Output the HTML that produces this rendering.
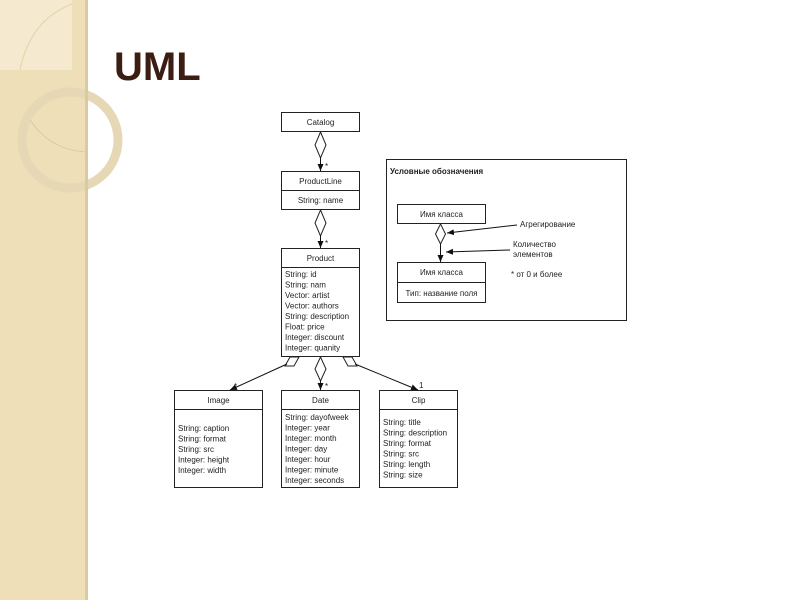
<!DOCTYPE html>
<html><head><meta charset="utf-8"><style>
html,body{margin:0;padding:0;background:#fff;}
svg{display:block;}
text{font-family:"Liberation Sans","DejaVu Sans",sans-serif;fill:#222;}
.t{font-size:8px;}
</style></head><body>
<svg width="800" height="600" viewBox="0 0 800 600" xmlns="http://www.w3.org/2000/svg">
<defs>
<marker id="ah" markerWidth="8" markerHeight="8" refX="7" refY="4" orient="auto" markerUnits="userSpaceOnUse">
<path d="M0,1 L7,4 L0,7 Z" fill="#111"/></marker>
</defs>
<!-- left decorative panel -->
<rect x="0" y="0" width="86" height="600" fill="#efdfb9"/>
<rect x="0" y="0" width="72" height="70" fill="#f5ead0"/>
<path d="M20,70 Q30,20 72,4" fill="none" stroke="#e3d3a8" stroke-width="1"/>
<circle cx="70" cy="140" r="48" fill="none" stroke="#e6d8b4" stroke-width="9"/>
<path d="M30,120 Q50,150 86,152" fill="none" stroke="#dccb9f" stroke-width="1"/>
<rect x="85" y="0" width="3" height="600" fill="#d9caa2"/>
<!-- title -->
<text x="114" y="80" font-size="40" font-weight="bold" style="fill:#3b1d12">UML</text>

<g stroke="#222" stroke-width="1" fill="#fff">
<!-- Catalog -->
<rect x="281.5" y="112.5" width="78" height="19"/>
<!-- ProductLine -->
<rect x="281.5" y="171.5" width="78" height="38"/>
<line x1="281.5" y1="190.5" x2="359.5" y2="190.5"/>
<!-- Product -->
<rect x="281.5" y="248.5" width="78" height="108"/>
<line x1="281.5" y1="267.5" x2="359.5" y2="267.5"/>
<!-- Image Date Clip -->
<rect x="174.5" y="390.5" width="88" height="97"/>
<line x1="174.5" y1="409.5" x2="262.5" y2="409.5"/>
<rect x="281.5" y="390.5" width="78" height="97"/>
<line x1="281.5" y1="409.5" x2="359.5" y2="409.5"/>
<rect x="379.5" y="390.5" width="78" height="97"/>
<line x1="379.5" y1="409.5" x2="457.5" y2="409.5"/>
<!-- diamonds -->
<path d="M320.5,132 L326,145 L320.5,158 L315,145 Z"/>
<path d="M320.5,210 L326,223 L320.5,236 L315,223 Z"/>
<path d="M320.5,357 L326,369 L320.5,381 L315,369 Z"/>
<path d="M285,366 L290,357 L299,357 L294,366 Z"/>
<path d="M343,357 L352,357 L357,366 L348,366 Z"/>
<!-- legend -->
<rect x="386.5" y="159.5" width="240" height="161"/>
<rect x="397.5" y="204.5" width="88" height="19"/>
<rect x="397.5" y="262.5" width="88" height="40"/>
<line x1="397.5" y1="282.5" x2="485.5" y2="282.5"/>
<path d="M440.5,224 L445.5,234 L440.5,244 L435.5,234 Z"/>
</g>
<g stroke="#111" stroke-width="1" fill="none">
<line x1="320.5" y1="158" x2="320.5" y2="171" marker-end="url(#ah)"/>
<line x1="320.5" y1="236" x2="320.5" y2="248" marker-end="url(#ah)"/>
<line x1="320.5" y1="381" x2="320.5" y2="390" marker-end="url(#ah)"/>
<line x1="287" y1="364" x2="230" y2="390" marker-end="url(#ah)"/>
<line x1="355" y1="364" x2="418" y2="390" marker-end="url(#ah)"/>
<line x1="440.5" y1="244" x2="440.5" y2="262" marker-end="url(#ah)"/>
<line x1="517" y1="225" x2="447" y2="233" marker-end="url(#ah)"/>
<line x1="510" y1="250" x2="446" y2="252" marker-end="url(#ah)"/>
</g>
<g class="t">
<text x="320.5" y="125" text-anchor="middle">Catalog</text>
<text x="320.5" y="184" text-anchor="middle">ProductLine</text>
<text x="320.5" y="203" text-anchor="middle">String: name</text>
<text x="320.5" y="261" text-anchor="middle">Product</text>
<text x="285" y="277">String: id</text>
<text x="285" y="287.5">String: nam</text>
<text x="285" y="298">Vector: artist</text>
<text x="285" y="308.5">Vector: authors</text>
<text x="285" y="319">String: description</text>
<text x="285" y="329.5">Float: price</text>
<text x="285" y="340">Integer: discount</text>
<text x="285" y="350.5">Integer: quanity</text>
<text x="218.5" y="403" text-anchor="middle">Image</text>
<text x="178" y="431">String: caption</text>
<text x="178" y="441.5">String: format</text>
<text x="178" y="452">String: src</text>
<text x="178" y="462.5">Integer: height</text>
<text x="178" y="473">Integer: width</text>
<text x="320.5" y="403" text-anchor="middle">Date</text>
<text x="285" y="420">String: dayofweek</text>
<text x="285" y="430.5">Integer: year</text>
<text x="285" y="441">Integer: month</text>
<text x="285" y="451.5">Integer: day</text>
<text x="285" y="462">Integer: hour</text>
<text x="285" y="472.5">Integer: minute</text>
<text x="285" y="483">Integer: seconds</text>
<text x="418.5" y="403" text-anchor="middle">Clip</text>
<text x="383" y="425">String: title</text>
<text x="383" y="435.5">String: description</text>
<text x="383" y="446">String: format</text>
<text x="383" y="456.5">String: src</text>
<text x="383" y="467">String: length</text>
<text x="383" y="477.5">String: size</text>
<text x="325" y="169">*</text>
<text x="325" y="246">*</text>
<text x="325" y="389">*</text>
<text x="234" y="389">*</text>
<text x="419" y="388">1</text>
<text x="390" y="174" font-weight="bold">Условные обозначения</text>
<text x="441.5" y="217" text-anchor="middle">Имя класса</text>
<text x="441.5" y="275" text-anchor="middle">Имя класса</text>
<text x="441.5" y="296" text-anchor="middle">Тип: название поля</text>
<text x="520" y="227">Агрегирование</text>
<text x="513" y="247">Количество</text>
<text x="513" y="257">элементов</text>
<text x="511" y="277">* от 0 и более</text>
</g>
</svg>
</body></html>
